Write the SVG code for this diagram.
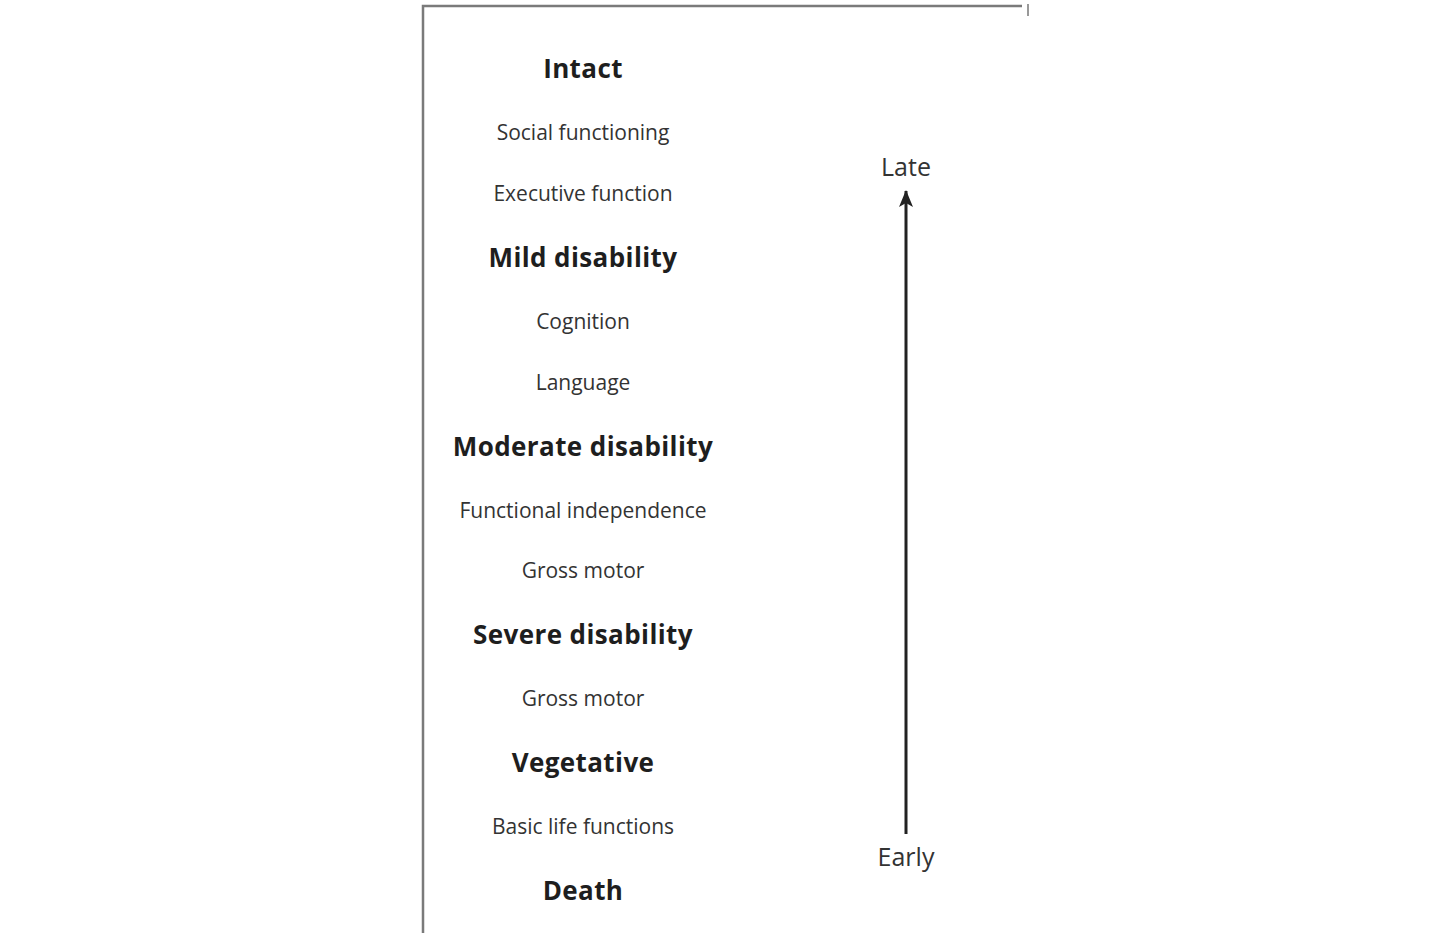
<svg xmlns="http://www.w3.org/2000/svg" width="1440" height="933" viewBox="0 0 1440 933">
<style>
.h{font-family:"Open Sans","Liberation Sans",sans-serif;font-weight:bold;font-size:26px;letter-spacing:0.4px;fill:#1e1e1e;text-anchor:middle}
.s{font-family:"Open Sans","Liberation Sans",sans-serif;font-size:21px;fill:#333;text-anchor:middle}
.a{font-family:"Open Sans","Liberation Sans",sans-serif;font-size:25px;fill:#333;text-anchor:middle}
.f{fill:none;stroke:#7a7a7a;stroke-width:2.5}
</style>
<defs>
<marker id="ah" markerWidth="16" markerHeight="18" refX="8" refY="1" orient="0" markerUnits="userSpaceOnUse">
<path d="M1,17 L8,0 L15,17 L8,13 Z" fill="#222"/>
</marker>
</defs>
<rect width="1440" height="933" fill="#fff"/>
<g id="frame">
<path class="f" d="M423,933 V6 H1022"/>
<line x1="1028" y1="4" x2="1028" y2="16" stroke="#999" stroke-width="2"/>
</g>
<g id="labels">
<text class="h" x="583" y="78">Intact</text>
<text class="s" x="583" y="140">Social functioning</text>
<text class="s" x="583" y="201">Executive function</text>
<text class="h" x="583" y="267">Mild disability</text>
<text class="s" x="583" y="329">Cognition</text>
<text class="s" x="583" y="390">Language</text>
<text class="h" x="583" y="456">Moderate disability</text>
<text class="s" x="583" y="518">Functional independence</text>
<text class="s" x="583" y="578">Gross motor</text>
<text class="h" x="583" y="644">Severe disability</text>
<text class="s" x="583" y="706">Gross motor</text>
<text class="h" x="583" y="772">Vegetative</text>
<text class="s" x="583" y="834">Basic life functions</text>
<text class="h" x="583" y="900">Death</text>
</g>
<g id="axis">
<text class="a" x="906" y="176">Late</text>
<text class="a" x="906" y="866">Early</text>
</g>
<g id="connectors">
<line x1="906" y1="834" x2="906" y2="191" stroke="#222" stroke-width="3" marker-end="url(#ah)"/>
</g>
</svg>
